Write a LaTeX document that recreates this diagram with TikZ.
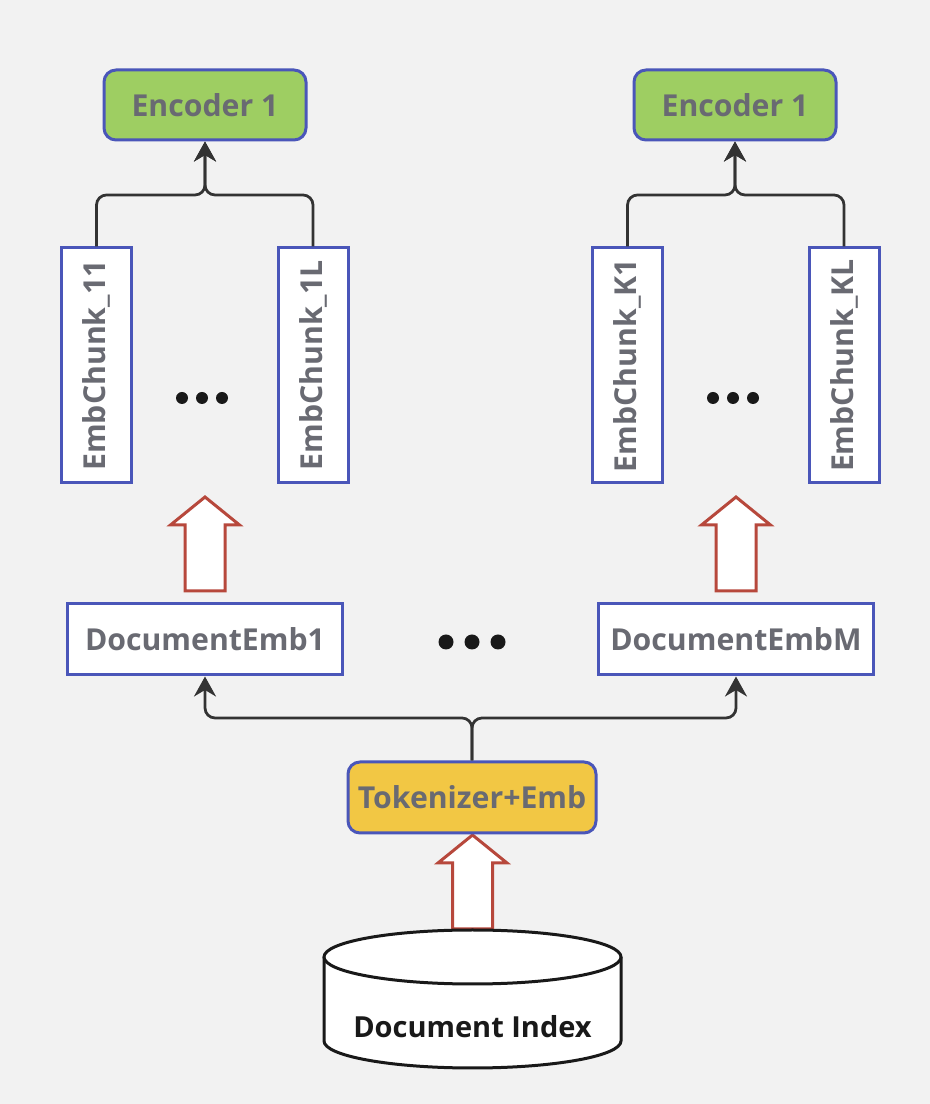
\documentclass[tikz,border=0pt]{standalone}
\usepackage{fontspec}
\setmainfont{Open Sans}
\usetikzlibrary{arrows.meta}

\definecolor{bggray}{RGB}{242,242,242}
\definecolor{boxblue}{RGB}{74,86,185}
\definecolor{labelgray}{RGB}{105,106,114}
\definecolor{encgreen}{RGB}{158,206,98}
\definecolor{tokyellow}{RGB}{242,199,68}
\definecolor{arrowred}{RGB}{183,72,60}
\definecolor{linegray}{RGB}{51,51,51}

\begin{document}
\begin{tikzpicture}[
  box/.style={draw=boxblue, line width=0.06cm, fill=white, text=labelgray,
    font=\fontsize{17.2}{20}\selectfont\bfseries, inner sep=0pt},
  encbox/.style={box, fill=encgreen, rounded corners=0.24cm, minimum width=4.04cm, minimum height=1.4cm},
  chunkbox/.style={box, rotate=90, minimum width=4.7cm, minimum height=1.4cm},
  docbox/.style={box, minimum width=5.5cm, minimum height=1.42cm},
  conn/.style={draw=linegray, line width=0.055cm, rounded corners=0.2cm,
    -{Stealth[length=0.4cm,width=0.44cm]}},
  hollow/.style={draw=arrowred, line width=0.06cm, fill=white},
  dbline/.style={draw=black!90, line width=0.06cm, fill=white}
]

\fill[bggray] (0,0) rectangle (18.6,22.08);

% encoders
\node[encbox] (enc1) at (4.1,19.98) {Encoder 1};
\node[encbox] (enc2) at (14.7,19.98) {Encoder 1};

% chunks (rotated, so east is the top)
\node[chunkbox] (c11) at (1.93,14.77) {EmbChunk\_11};
\node[chunkbox] (c1L) at (6.26,14.77) {EmbChunk\_1L};
\node[chunkbox] (cK1) at (12.55,14.77) {EmbChunk\_K1};
\node[chunkbox] (cKL) at (16.88,14.77) {EmbChunk\_KL};

\draw[conn] (c11.east) |- (enc1.south |- 0,18.18) -- (enc1.south);
\draw[conn] (c1L.east) |- (enc1.south |- 0,18.18) -- (enc1.south);
\draw[conn] (cK1.east) |- (enc2.south |- 0,18.18) -- (enc2.south);
\draw[conn] (cKL.east) |- (enc2.south |- 0,18.18) -- (enc2.south);

\foreach \x in {3.64,4.04,4.44}
    \fill[black!90] (\x,14.12) circle (0.12);
\foreach \x in {14.26,14.66,15.06}
    \fill[black!90] (\x,14.12) circle (0.12);

% document embeddings
\node[docbox] (doc1) at (4.1,9.29) {DocumentEmb1};
\node[docbox] (docM) at (14.72,9.29) {DocumentEmbM};

\foreach \x in {8.92,9.44,9.96}
    \fill[black!90] (\x,9.24) circle (0.15);

% hollow arrows
\foreach \x/\y in {4.1/10.26, 14.72/10.26, 9.45/3.5}
    \draw[hollow] (\x-0.4,\y) -- (\x-0.4,\y+1.32) -- (\x-0.69,\y+1.32) -- (\x,\y+1.88)
        -- (\x+0.69,\y+1.32) -- (\x+0.4,\y+1.32) -- (\x+0.4,\y) -- cycle;

% tokenizer
\node[box, fill=tokyellow, rounded corners=0.24cm, minimum width=4.96cm, minimum height=1.42cm]
    (tok) at (9.44,6.13) {Tokenizer+Emb};

\draw[conn] (tok.north) |- (doc1.south |- 0,7.72) -- (doc1.south);
\draw[conn] (tok.north) |- (docM.south |- 0,7.72) -- (docM.south);

% document index cylinder
\draw[dbline] (6.48,2.94) -- (6.48,1.26) arc[start angle=180, end angle=360, x radius=2.97cm, y radius=0.54cm]
    -- (12.42,2.94);
\draw[dbline] (9.45,2.94) ellipse [x radius=2.97cm, y radius=0.54cm];
\node[text=black!90, font=\fontsize{16.5}{20}\selectfont\bfseries] (db) at (9.45,1.54) {Document Index};

\end{tikzpicture}
\end{document}
